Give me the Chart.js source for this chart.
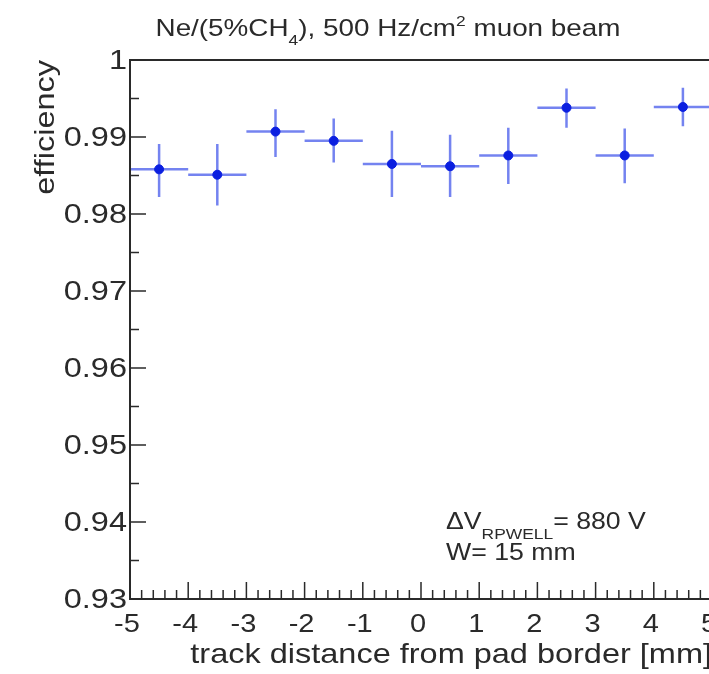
<!DOCTYPE html>
<html>
<head>
<meta charset="utf-8">
<script src="https://cdn.jsdelivr.net/npm/chart.js@4.4.1/dist/chart.umd.min.js"></script>
<style>
	html, body { margin: 0; padding: 0; background: #fff; overflow: hidden; }
	#wrap { width: 709px; height: 674px; overflow: hidden; }
</style>
</head>
<body>
<div id="wrap"><canvas id="effChart" width="760" height="674"></canvas></div>
<script>
// bin centres of the track distance [mm]
var binCenters = [-4.5, -3.5, -2.5, -1.5, -0.5, 0.5, 1.5, 2.5, 3.5, 4.5];
var binWidth = 1;
// efficiency per bin, with asymmetric errors
var efficiency = [0.9858, 0.9851, 0.9907, 0.9895, 0.9865, 0.9862, 0.9876, 0.9938, 0.9876, 0.9939];
var errUp = [0.0033, 0.0040, 0.0029, 0.0029, 0.0043, 0.0041, 0.0036, 0.0025, 0.0035, 0.0025];
var errDown = [0.0036, 0.0040, 0.0033, 0.0028, 0.0043, 0.0040, 0.0037, 0.0026, 0.0036, 0.0025];
// tick labels
var xTicks = [-5, -4, -3, -2, -1, 0, 1, 2, 3, 4, 5];
var yTicks = [0.93, 0.94, 0.95, 0.96, 0.97, 0.98, 0.99, 1];
var yTickLabels = ['0.93', '0.94', '0.95', '0.96', '0.97', '0.98', '0.99', '1'];

var FONT = '"Liberation Sans", Arial, Helvetica, sans-serif';
var INK = '#2a2a2a';
var STRETCH = 1.16; // the original text is a bit wider than Liberation Sans

var points = binCenters.map(function(x, i) { return {x: x, y: efficiency[i]}; });

// text drawn a little wider, anchored at x
function wideText(ctx, txt, x, y, size, align)
{
	ctx.save();
	ctx.font = size + 'px ' + FONT;
	ctx.textAlign = align || 'left';
	ctx.translate(x, y);
	ctx.scale(STRETCH, 1);
	ctx.fillText(txt, 0, 0);
	ctx.restore();
}

function wideWidth(ctx, txt, size)
{
	ctx.font = size + 'px ' + FONT;
	return ctx.measureText(txt).width * STRETCH;
}

// draw a row of [text, size, dy] pieces starting at x
function drawPieces(ctx, parts, x, y)
{
	parts.forEach(function(p)
	{
		wideText(ctx, p[0], x, y + p[2], p[1], 'left');
		x += wideWidth(ctx, p[0], p[1]);
	});
}

// error bars (horizontal = bin width, vertical = stat. error)
var errorBars = {
	id: 'errorBars',
	beforeDatasetsDraw: function(chart)
	{
		var ctx = chart.ctx, xs = chart.scales.x, ys = chart.scales.y;
		ctx.save();
		ctx.strokeStyle = 'rgba(70, 90, 235, 0.75)';
		ctx.lineWidth = 2.5;
		for (var i = 0; i < binCenters.length; i++)
		{
			var px = xs.getPixelForValue(binCenters[i]);
			var py = ys.getPixelForValue(efficiency[i]);
			ctx.beginPath();
			ctx.moveTo(xs.getPixelForValue(binCenters[i] - binWidth / 2), py);
			ctx.lineTo(xs.getPixelForValue(binCenters[i] + binWidth / 2), py);
			ctx.moveTo(px, ys.getPixelForValue(efficiency[i] + errUp[i]));
			ctx.lineTo(px, ys.getPixelForValue(efficiency[i] - errDown[i]));
			ctx.stroke();
		}
		ctx.restore();
	}
};

// ROOT style frame, ticks, labels and texts
var frame = {
	id: 'frame',
	afterDraw: function(chart)
	{
		var ctx = chart.ctx, xs = chart.scales.x, ys = chart.scales.y, a = chart.chartArea;
		ctx.save();
		ctx.strokeStyle = INK;
		ctx.lineWidth = 2;
		ctx.beginPath();
		ctx.moveTo(a.right, a.top);
		ctx.lineTo(a.left, a.top);
		ctx.lineTo(a.left, a.bottom);
		ctx.lineTo(a.right, a.bottom);
		ctx.lineTo(a.right, a.top);
		ctx.stroke();

		// y ticks
		ctx.lineWidth = 1.5;
		ctx.beginPath();
		for (var v = 0; v < yTicks.length; v++)
		{
			var py = ys.getPixelForValue(yTicks[v]);
			ctx.moveTo(a.left, py); ctx.lineTo(a.left + 16, py);
			if (v < yTicks.length - 1)
			{
				var pm = ys.getPixelForValue((yTicks[v] + yTicks[v + 1]) / 2);
				ctx.moveTo(a.left, pm); ctx.lineTo(a.left + 9, pm);
			}
		}
		// x ticks
		for (var k = 0; k < xTicks.length; k++)
		{
			var px = xs.getPixelForValue(xTicks[k]);
			ctx.moveTo(px, a.bottom); ctx.lineTo(px, a.bottom - 17);
			if (k < xTicks.length - 1)
			{
				for (var m = 1; m < 5; m++)
				{
					var pm2 = xs.getPixelForValue(xTicks[k] + m * 0.2);
					ctx.moveTo(pm2, a.bottom); ctx.lineTo(pm2, a.bottom - 9);
				}
			}
		}
		ctx.stroke();

		// tick labels
		ctx.fillStyle = INK;
		ctx.textBaseline = 'middle';
		for (var t = 0; t < yTicks.length; t++)
			wideText(ctx, yTickLabels[t], a.left - 3, ys.getPixelForValue(yTicks[t]) + 1, 28, 'right');

		ctx.textBaseline = 'alphabetic';
		for (var q = 0; q < xTicks.length; q++)
			wideText(ctx, String(xTicks[q]), xs.getPixelForValue(xTicks[q]) - 3, a.bottom + 33, 25, 'center');

		// axis titles
		wideText(ctx, 'track distance from pad border [mm]', a.right, a.bottom + 64, 28, 'right');

		ctx.save();
		ctx.translate(54, a.top);
		ctx.rotate(-Math.PI / 2);
		wideText(ctx, 'efficiency', 0, 0, 28, 'right');
		ctx.restore();

		// title with sub/superscript
		var title = [
			['Ne/(5%CH', 24, 0],
			['4', 15, 9],
			['), 500 Hz/cm', 24, 0],
			['2', 15, -10],
			[' muon beam', 24, 0]
		];
		var total = 0;
		title.forEach(function(p) { total += wideWidth(ctx, p[0], p[1]); });
		drawPieces(ctx, title, 388 - total / 2, 36);

		// annotation
		drawPieces(ctx, [
			['\u0394V', 23, 0],
			['RPWELL', 15, 10],
			['= 880 V', 23, 0]
		], 446, 529);
		drawPieces(ctx, [['W= 15 mm', 23, 0]], 446, 560);
		ctx.restore();
	}
};

var ctx = document.getElementById('effChart').getContext('2d');
var effChart = new Chart(ctx, {
	type: 'scatter',
	data: {
		datasets: [{
			data: points,
			pointRadius: 4.5,
			pointBackgroundColor: '#0b1fe0',
			pointBorderColor: '#0b1fe0',
			pointBorderWidth: 1
		}]
	},
	options: {
		responsive: false,
		animation: false,
		layout: { padding: { left: 130, top: 60, right: 48, bottom: 75 } },
		plugins: { legend: { display: false }, tooltip: { enabled: false } },
		scales: {
			x: { type: 'linear', min: -5, max: 5, display: false },
			y: { type: 'linear', min: 0.93, max: 1, display: false }
		}
	},
	plugins: [errorBars, frame]
});
</script>
</body>
</html>
